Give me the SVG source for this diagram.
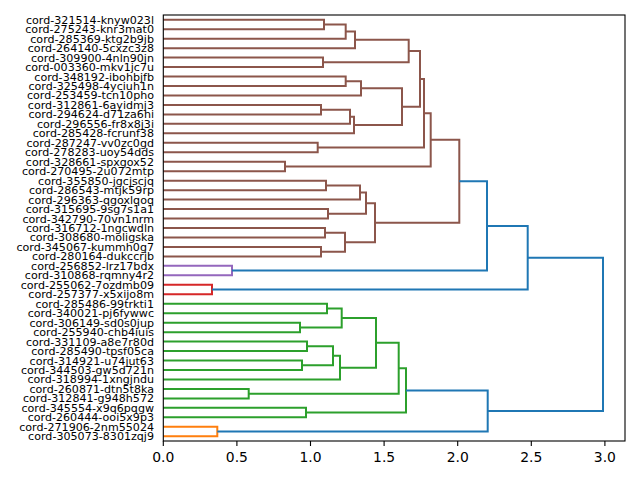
<svg xmlns="http://www.w3.org/2000/svg" width="640" height="480" viewBox="0 0 640 480">
<style>
.lbl{font-family:"DejaVu Sans","Liberation Sans",sans-serif;font-size:11.1px;fill:#000;text-anchor:end}
.tk{font-family:"DejaVu Sans","Liberation Sans",sans-serif;font-size:13.9px;fill:#000;text-anchor:middle}
.l{fill:none;stroke-width:2;stroke-linejoin:miter;stroke-linecap:butt}
.br{stroke:#8c564b}.pu{stroke:#9467bd}.re{stroke:#d62728}.gr{stroke:#2ca02c}.or{stroke:#ff7f0e}.bl{stroke:#1f77b4}
.ax{fill:none;stroke:#000;stroke-width:1.1}
</style>
<rect width="640" height="480" fill="#fff"/>
<g id="connectors">
<path class="l br" d="M163.3 19.73H324V29.2H163.3"/>
<path class="l br" d="M324 24.47H345.7V38.67H163.3"/>
<path class="l br" d="M345.7 31.57H355V48.13H163.3"/>
<path class="l br" d="M163.3 57.6H323V67.07H163.3"/>
<path class="l br" d="M355 39.85H408.7V62.33H323"/>
<path class="l br" d="M163.3 76.53H345.7V86H163.3"/>
<path class="l br" d="M345.7 81.27H361V95.47H163.3"/>
<path class="l br" d="M163.3 104.93H321V114.4H163.3"/>
<path class="l br" d="M321 109.67H350V123.87H163.3"/>
<path class="l br" d="M350 116.77H354V133.33H163.3"/>
<path class="l br" d="M361 88.37H402V125.05H354"/>
<path class="l br" d="M408.7 51.09H420V106.71H402"/>
<path class="l br" d="M163.3 142.8H317.7V152.27H163.3"/>
<path class="l br" d="M420 78.9H424V147.53H317.7"/>
<path class="l br" d="M163.3 161.73H285V171.2H163.3"/>
<path class="l br" d="M424 113.22H430.7V166.47H285"/>
<path class="l br" d="M163.3 180.67H326V190.13H163.3"/>
<path class="l br" d="M326 185.4H360V199.6H163.3"/>
<path class="l br" d="M163.3 209.07H328V218.53H163.3"/>
<path class="l br" d="M360 192.5H366V213.8H328"/>
<path class="l br" d="M163.3 228H325V237.47H163.3"/>
<path class="l br" d="M163.3 246.93H321V256.4H163.3"/>
<path class="l br" d="M325 232.73H345V251.67H321"/>
<path class="l br" d="M366 203.15H375V242.2H345"/>
<path class="l br" d="M430.7 139.84H459.3V222.68H375"/>
<path class="l pu" d="M163.3 265.87H232V275.33H163.3"/>
<path class="l bl" d="M459.3 181.26H487V270.6H232"/>
<path class="l re" d="M163.3 284.8H212V294.27H163.3"/>
<path class="l bl" d="M487 225.93H527.7V289.53H212"/>
<path class="l gr" d="M163.3 303.73H327V313.2H163.3"/>
<path class="l gr" d="M163.3 322.67H300V332.13H163.3"/>
<path class="l gr" d="M327 308.47H341.7V327.4H300"/>
<path class="l gr" d="M163.3 341.6H307V351.07H163.3"/>
<path class="l gr" d="M163.3 360.53H302V370H163.3"/>
<path class="l gr" d="M307 346.33H333V365.27H302"/>
<path class="l gr" d="M333 355.8H340V379.47H163.3"/>
<path class="l gr" d="M341.7 317.93H376V367.63H340"/>
<path class="l gr" d="M163.3 388.93H248.7V398.4H163.3"/>
<path class="l gr" d="M376 342.78H398.7V393.67H248.7"/>
<path class="l gr" d="M163.3 407.87H306V417.33H163.3"/>
<path class="l gr" d="M398.7 368.22H406V412.6H306"/>
<path class="l or" d="M163.3 426.8H217.3V436.27H163.3"/>
<path class="l bl" d="M406 390.41H487.7V431.53H217.3"/>
<path class="l bl" d="M527.7 257.73H603V410.97H487.7"/>
</g>
<g id="axes">
<rect class="ax" x="163.3" y="15" width="461.7" height="426"/>
<path class="ax" d="M163.3 441v4.9M236.9 441v4.9M310.5 441v4.9M384.1 441v4.9M457.7 441v4.9M531.3 441v4.9M604.9 441v4.9"/>
<text class="tk" x="163.3" y="462">0.0</text>
<text class="tk" x="236.9" y="462">0.5</text>
<text class="tk" x="310.5" y="462">1.0</text>
<text class="tk" x="384.1" y="462">1.5</text>
<text class="tk" x="457.7" y="462">2.0</text>
<text class="tk" x="531.3" y="462">2.5</text>
<text class="tk" x="604.9" y="462">3.0</text>
</g>
<g id="leaf0"><text class="lbl" x="154" y="23.73">cord-321514-knyw023l</text></g>
<g id="leaf1"><text class="lbl" x="154" y="33.2">cord-275243-knr3mat0</text></g>
<g id="leaf2"><text class="lbl" x="154" y="42.67">cord-285369-ktg2b9jb</text></g>
<g id="leaf3"><text class="lbl" x="154" y="52.13">cord-264140-5cxzc3z8</text></g>
<g id="leaf4"><text class="lbl" x="154" y="61.6">cord-309900-4nln90jn</text></g>
<g id="leaf5"><text class="lbl" x="154" y="71.07">cord-003360-mkv1jc7u</text></g>
<g id="leaf6"><text class="lbl" x="154" y="80.53">cord-348192-ibohbjfb</text></g>
<g id="leaf7"><text class="lbl" x="154" y="90">cord-325498-4yciuh1n</text></g>
<g id="leaf8"><text class="lbl" x="154" y="99.47">cord-253459-tcn10pho</text></g>
<g id="leaf9"><text class="lbl" x="154" y="108.93">cord-312861-6ayidmj3</text></g>
<g id="leaf10"><text class="lbl" x="154" y="118.4">cord-294624-d71za6hi</text></g>
<g id="leaf11"><text class="lbl" x="154" y="127.87">cord-296556-fr8x8j3i</text></g>
<g id="leaf12"><text class="lbl" x="154" y="137.33">cord-285428-fcrunf38</text></g>
<g id="leaf13"><text class="lbl" x="154" y="146.8">cord-287247-vv0zc0gd</text></g>
<g id="leaf14"><text class="lbl" x="154" y="156.27">cord-278283-uoy54dds</text></g>
<g id="leaf15"><text class="lbl" x="154" y="165.73">cord-328661-spxgox52</text></g>
<g id="leaf16"><text class="lbl" x="154" y="175.2">cord-270495-2u072mtp</text></g>
<g id="leaf17"><text class="lbl" x="154" y="184.67">cord-355850-jgcjscjq</text></g>
<g id="leaf18"><text class="lbl" x="154" y="194.13">cord-286543-mtjk59rp</text></g>
<g id="leaf19"><text class="lbl" x="154" y="203.6">cord-296363-qgoxlqoq</text></g>
<g id="leaf20"><text class="lbl" x="154" y="213.07">cord-315695-9sg7s1a1</text></g>
<g id="leaf21"><text class="lbl" x="154" y="222.53">cord-342790-70vn1nrm</text></g>
<g id="leaf22"><text class="lbl" x="154" y="232">cord-316712-1ngcwdln</text></g>
<g id="leaf23"><text class="lbl" x="154" y="241.47">cord-308680-moligska</text></g>
<g id="leaf24"><text class="lbl" x="154" y="250.93">cord-345067-kummh0g7</text></g>
<g id="leaf25"><text class="lbl" x="154" y="260.4">cord-280164-dukccrjb</text></g>
<g id="leaf26"><text class="lbl" x="154" y="269.87">cord-256852-lrz17bdx</text></g>
<g id="leaf27"><text class="lbl" x="154" y="279.33">cord-310868-rqmny4r2</text></g>
<g id="leaf28"><text class="lbl" x="154" y="288.8">cord-255062-7ozdmb09</text></g>
<g id="leaf29"><text class="lbl" x="154" y="298.27">cord-257377-x5xijo8m</text></g>
<g id="leaf30"><text class="lbl" x="154" y="307.73">cord-285486-99trkti1</text></g>
<g id="leaf31"><text class="lbl" x="154" y="317.2">cord-340021-pj6fywwc</text></g>
<g id="leaf32"><text class="lbl" x="154" y="326.67">cord-306149-sd0s0jup</text></g>
<g id="leaf33"><text class="lbl" x="154" y="336.13">cord-255940-chb4iuis</text></g>
<g id="leaf34"><text class="lbl" x="154" y="345.6">cord-331109-a8e7r80d</text></g>
<g id="leaf35"><text class="lbl" x="154" y="355.07">cord-285490-tpsf05ca</text></g>
<g id="leaf36"><text class="lbl" x="154" y="364.53">cord-314921-u74jut63</text></g>
<g id="leaf37"><text class="lbl" x="154" y="374">cord-344503-gw5d721n</text></g>
<g id="leaf38"><text class="lbl" x="154" y="383.47">cord-318994-1xngjndu</text></g>
<g id="leaf39"><text class="lbl" x="154" y="392.93">cord-260871-dtn5t8ka</text></g>
<g id="leaf40"><text class="lbl" x="154" y="402.4">cord-312841-g948h572</text></g>
<g id="leaf41"><text class="lbl" x="154" y="411.87">cord-345554-x9q6pqgw</text></g>
<g id="leaf42"><text class="lbl" x="154" y="421.33">cord-260444-ooi5x9p3</text></g>
<g id="leaf43"><text class="lbl" x="154" y="430.8">cord-271906-2nm55024</text></g>
<g id="leaf44"><text class="lbl" x="154" y="440.27">cord-305073-8301zqj9</text></g>
</svg>
